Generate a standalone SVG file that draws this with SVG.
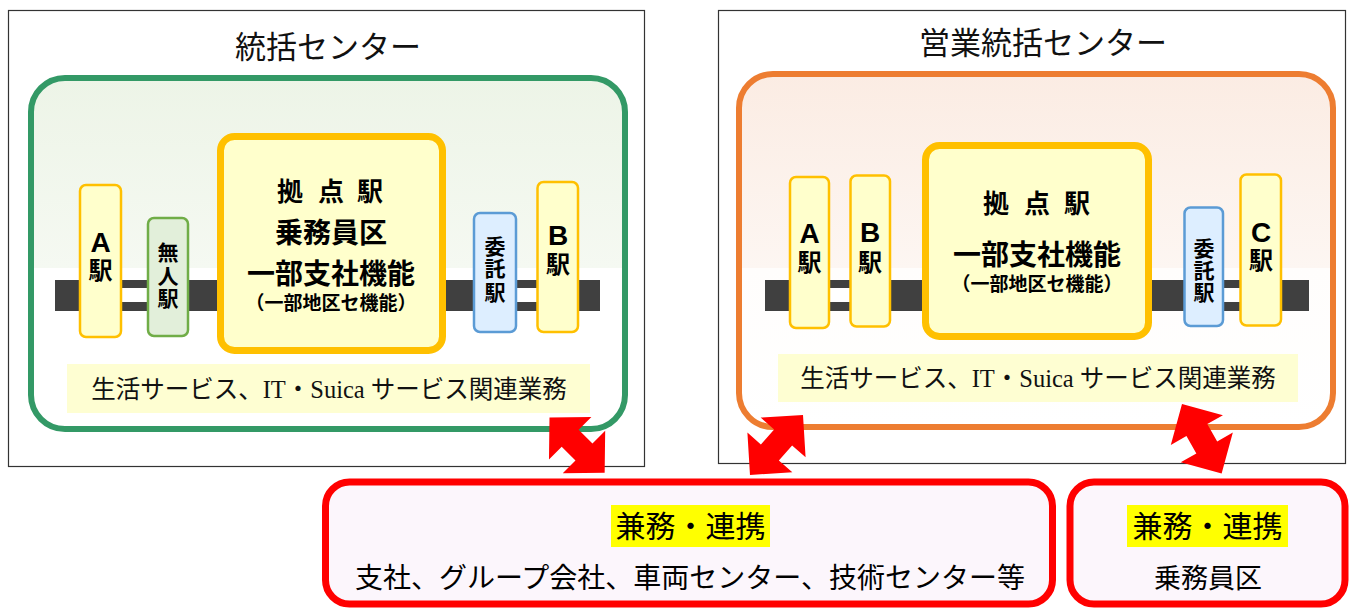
<svg xmlns="http://www.w3.org/2000/svg" width="1358" height="608" viewBox="0 0 1358 608">
<defs>
<linearGradient id="gGreen" x1="0" y1="0" x2="0" y2="1">
<stop offset="0" stop-color="#edf4e7"/>
<stop offset="0.54" stop-color="#f5f9f2"/>
<stop offset="0.54" stop-color="#ffffff"/>
<stop offset="1" stop-color="#ffffff"/>
</linearGradient>
<linearGradient id="gOrange" x1="0" y1="0" x2="0" y2="1">
<stop offset="0" stop-color="#fbece3"/>
<stop offset="0.55" stop-color="#fdf6f2"/>
<stop offset="0.55" stop-color="#fffdfc"/>
<stop offset="1" stop-color="#ffffff"/>
</linearGradient>
<polygon id="dblArrow" points="0,0 30,-30 30,-12 50,-12 50,-30 80,0 50,30 50,12 30,12 30,30"/>
</defs>
<style>
.frame{fill:#ffffff;stroke:#333333;stroke-width:1.2}
.title{font-family:"Noto Sans CJK JP","Noto Sans",sans-serif;font-size:31px;fill:#111;text-anchor:middle}
.stn{fill:#ffffcc;stroke:#ffc000;stroke-width:2.5}
.stnG{fill:#e2efda;stroke:#70ad47;stroke-width:2.5}
.stnB{fill:#ddeeff;stroke:#5b9bd5;stroke-width:2.5}
.hub{fill:#ffffcc;stroke:#ffc000;stroke-width:7}
.lat{font-family:"Liberation Sans",Arial,sans-serif;font-weight:bold;font-size:28px;fill:#000;text-anchor:middle}
.jb{font-family:"Noto Sans CJK JP",sans-serif;font-weight:bold;fill:#000;text-anchor:middle}
.svc{fill:#fefed2}
.svct{font-family:"Noto Sans CJK JP",sans-serif;font-size:24.5px;fill:#111;text-anchor:middle}
.ser{font-family:"Liberation Serif","Times New Roman",serif}
.track{fill:#404040}
.stripe{fill:#ffffff}
.redbox{fill:#fcf6fc;stroke:#ff0000;stroke-width:7}
.hl{fill:#ffff00}
.bt{font-family:"Noto Sans CJK JP",sans-serif;fill:#000;text-anchor:middle}
.arrow{fill:#ff0000}
</style>

<g id="left-center">
<rect class="frame" x="8.5" y="10.5" width="636" height="456"/>
<text class="title" x="328" y="58">統括センター</text>
<rect x="31" y="78" width="594" height="351" rx="34" fill="url(#gGreen)" stroke="#339966" stroke-width="6"/>
<rect class="track" x="55" y="280" width="545" height="31"/>
<rect class="stripe" x="121" y="288" width="26" height="14"/>
<rect class="stripe" x="516" y="288" width="21" height="14"/>
<rect class="svc" x="67" y="364" width="523" height="49"/>
<text class="svct" x="329" y="398">生活サービス、<tspan class="ser">IT</tspan>・<tspan class="ser">Suica </tspan>サービス関連業務</text>
</g>

<g id="left-stationA">
<rect class="stn" x="80" y="185" width="41" height="152" rx="6"/>
<text class="lat" x="100.5" y="252">A</text>
<text class="jb" x="100.5" y="279" font-size="24">駅</text>
</g>
<g id="left-mujin">
<rect class="stnG" x="148" y="218" width="40" height="118" rx="6"/>
<text class="jb" x="168" y="260" font-size="21">無</text>
<text class="jb" x="168" y="284" font-size="21">人</text>
<text class="jb" x="168" y="306" font-size="21">駅</text>
</g>
<g id="left-hub">
<rect class="hub" x="220.5" y="136.5" width="222" height="214" rx="14"/>
<text class="jb" x="290 331 370" y="201" font-size="26">拠点駅</text>
<text class="jb" x="331" y="243" font-size="28">乗務員区</text>
<text class="jb" x="331" y="284" font-size="28">一部支社機能</text>
<text class="jb" x="331" y="310" font-size="19">（一部地区セ機能）</text>
</g>
<g id="left-itaku">
<rect class="stnB" x="474" y="213" width="42" height="119" rx="6"/>
<text class="jb" x="495" y="254" font-size="21">委</text>
<text class="jb" x="495" y="276" font-size="21">託</text>
<text class="jb" x="495" y="300" font-size="21">駅</text>
</g>
<g id="left-stationB">
<rect class="stn" x="537.5" y="182" width="40.5" height="150" rx="6"/>
<text class="lat" x="558" y="245">B</text>
<text class="jb" x="558" y="273" font-size="24">駅</text>
</g>

<g id="right-center">
<rect class="frame" x="718.5" y="10.5" width="627" height="453"/>
<text class="title" x="1043" y="54" font-size="30">営業統括センター</text>
<rect x="739" y="74" width="594" height="353" rx="34" fill="url(#gOrange)" stroke="#ed7d31" stroke-width="6"/>
<rect class="track" x="765" y="280" width="544" height="31"/>
<rect class="stripe" x="829" y="288" width="21" height="14"/>
<rect class="stripe" x="1223" y="288" width="17" height="14"/>
<rect class="svc" x="778" y="354" width="520" height="48"/>
<text class="svct" x="1038" y="387">生活サービス、<tspan class="ser">IT</tspan>・<tspan class="ser">Suica </tspan>サービス関連業務</text>
</g>

<g id="right-stationA">
<rect class="stn" x="790" y="177" width="39" height="151" rx="6"/>
<text class="lat" x="809.5" y="243">A</text>
<text class="jb" x="809.5" y="271" font-size="24">駅</text>
</g>
<g id="right-stationB">
<rect class="stn" x="850.5" y="175.5" width="39.5" height="151" rx="6"/>
<text class="lat" x="870" y="242">B</text>
<text class="jb" x="870" y="271" font-size="24">駅</text>
</g>
<g id="right-hub">
<rect class="hub" x="925.5" y="145.5" width="223" height="191" rx="14"/>
<text class="jb" x="996 1037 1077" y="213" font-size="26">拠点駅</text>
<text class="jb" x="1037" y="265" font-size="28">一部支社機能</text>
<text class="jb" x="1037" y="291" font-size="19">（一部地区セ機能）</text>
</g>
<g id="right-itaku">
<rect class="stnB" x="1184.5" y="207.5" width="38.5" height="118.5" rx="6"/>
<text class="jb" x="1204" y="256" font-size="21">委</text>
<text class="jb" x="1204" y="278" font-size="21">託</text>
<text class="jb" x="1204" y="300" font-size="21">駅</text>
</g>
<g id="right-stationC">
<rect class="stn" x="1240.5" y="174.5" width="40.5" height="151" rx="6"/>
<text class="lat" x="1261" y="242">C</text>
<text class="jb" x="1261" y="269" font-size="24">駅</text>
</g>

<g id="box-shisha">
<rect class="redbox" x="325.5" y="482" width="727" height="122" rx="24"/>
<rect class="hl" x="611" y="505" width="159" height="42"/>
<text class="bt" x="690.5" y="537" font-size="30">兼務・連携</text>
<text class="bt" x="690" y="588" font-size="28">支社、グループ会社、車両センター、技術センター等</text>
</g>
<g id="box-jomuin">
<rect class="redbox" x="1070" y="482" width="275" height="122" rx="24"/>
<rect class="hl" x="1127" y="505" width="161" height="42"/>
<text class="bt" x="1207.5" y="537" font-size="30">兼務・連携</text>
<text class="bt" x="1208" y="588" font-size="27">乗務員区</text>
</g>

<g id="connectors">
<use href="#dblArrow" class="arrow" transform="translate(549.5,417.5) rotate(45) scale(0.975,1)"/>
<use href="#dblArrow" class="arrow" transform="translate(803,415) rotate(131.5)"/>
<use href="#dblArrow" class="arrow" transform="translate(1182,404) rotate(60.3)"/>
</g>
</svg>
